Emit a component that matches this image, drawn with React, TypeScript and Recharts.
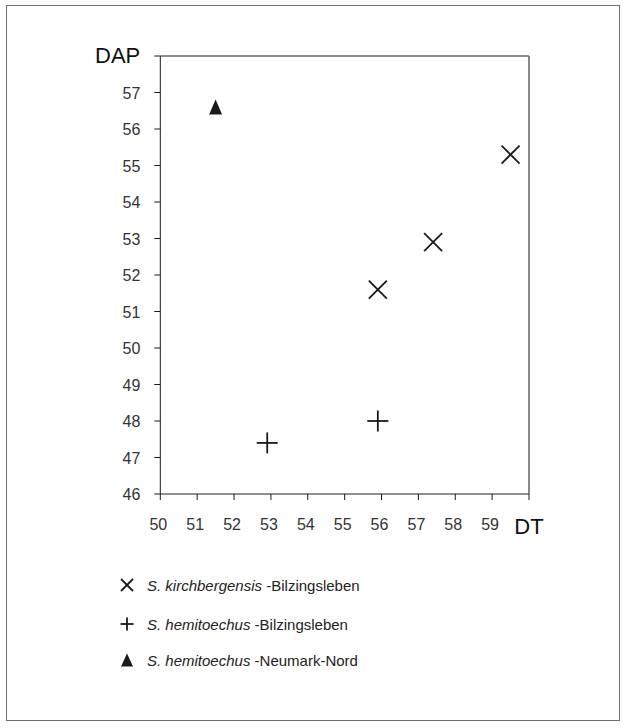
import React from 'react';
import { ScatterChart, Scatter, XAxis, YAxis, ReferenceLine } from 'recharts';

// Rhinoceros teeth measurements: DT (x) against DAP (y)
const kirchbergensisBilzingsleben = [
  { dt: 55.9, dap: 51.6 },
  { dt: 57.4, dap: 52.9 },
  { dt: 59.5, dap: 55.3 },
];
const hemitoechusBilzingsleben = [
  { dt: 52.9, dap: 47.4 },
  { dt: 55.9, dap: 48.0 },
];
const hemitoechusNeumarkNord = [{ dt: 51.5, dap: 56.6 }];

const xTicks = [50, 51, 52, 53, 54, 55, 56, 57, 58, 59, 60];
const yTicks = [46, 47, 48, 49, 50, 51, 52, 53, 54, 55, 56, 57, 58];
const xTitle = 'DT';
const yTitle = 'DAP';

const legendEntries = [
  { species: 'S. kirchbergensis', site: 'Bilzingsleben', marker: 'cross' },
  { species: 'S. hemitoechus', site: 'Bilzingsleben', marker: 'plus' },
  { species: 'S. hemitoechus', site: 'Neumark-Nord', marker: 'triangle' },
];

const FONT = '"Liberation Sans", Arial, Helvetica, sans-serif';
const INK = '#1a1a1a';

const CrossMark = ({ cx, cy, size = 18 }: any) => {
  const h = size / 2;
  return (
    <g stroke={INK} strokeWidth={1.8} fill="none">
      <line x1={cx - h} y1={cy - h} x2={cx + h} y2={cy + h} />
      <line x1={cx - h} y1={cy + h} x2={cx + h} y2={cy - h} />
    </g>
  );
};

const PlusMark = ({ cx, cy, size = 21 }: any) => {
  const h = size / 2;
  return (
    <g stroke={INK} strokeWidth={1.8} fill="none">
      <line x1={cx - h} y1={cy} x2={cx + h} y2={cy} />
      <line x1={cx} y1={cy - h} x2={cx} y2={cy + h} />
    </g>
  );
};

const TriangleMark = ({ cx, cy, w = 13, h = 15 }: any) => (
  <polygon
    points={`${cx},${cy - h / 2} ${cx + w / 2},${cy + h / 2} ${cx - w / 2},${cy + h / 2}`}
    fill={INK}
  />
);

const YTick = ({ x, y, payload }: any) => {
  if (payload.value === yTicks[yTicks.length - 1]) {
    return (
      <text x={x} y={y + 7} textAnchor="end" fontSize={22} fill="#111" fontFamily={FONT}>
        {yTitle}
      </text>
    );
  }
  return (
    <text x={x} y={y + 6} textAnchor="end" fontSize={16} fill="#333" fontFamily={FONT}>
      {payload.value}
    </text>
  );
};

const XTick = ({ x, y, payload }: any) => {
  if (payload.value === xTicks[xTicks.length - 1]) {
    return (
      <text x={x} y={y + 34} textAnchor="middle" fontSize={22} fill="#111" fontFamily={FONT}>
        {xTitle}
      </text>
    );
  }
  return (
    <text x={x - 2} y={y + 30} textAnchor="middle" fontSize={16} fill="#333" fontFamily={FONT}>
      {payload.value}
    </text>
  );
};

const LegendIcon = ({ kind }: { kind: string }) => (
  <svg width={20} height={20} style={{ display: 'block' }}>
    {kind === 'cross' && <CrossMark cx={10} cy={10} size={12} />}
    {kind === 'plus' && <PlusMark cx={10} cy={10} size={13} />}
    {kind === 'triangle' && <TriangleMark cx={10} cy={10} w={12} h={13} />}
  </svg>
);

export default function App() {
  return (
    <div style={{ position: 'absolute', left: 0, top: 0, width: 627, height: 728, background: '#fff' }}>
      <div
        style={{
          position: 'absolute',
          left: 6,
          top: 5,
          width: 614,
          height: 716,
          border: '1px solid #6f6f6f',
          boxSizing: 'border-box',
        }}
      />
      <div style={{ position: 'absolute', left: 0, top: 0 }}>
        <ScatterChart width={627} height={728} margin={{ top: 56, right: 98, bottom: 194, left: 100 }}>
          <XAxis
            type="number"
            dataKey="dt"
            domain={[50, 60]}
            ticks={xTicks}
            interval={0}
            height={40}
            allowDataOverflow
            axisLine={{ stroke: '#6a6a6a', strokeWidth: 1.6 }}
            tickLine={{ stroke: INK }}
            tickSize={6}
            tickMargin={0}
            tick={<XTick />}
          />
          <YAxis
            type="number"
            dataKey="dap"
            domain={[46, 58]}
            ticks={yTicks}
            interval={0}
            width={60.3}
            allowDataOverflow
            axisLine={{ stroke: INK, strokeWidth: 1 }}
            tickLine={{ stroke: INK }}
            tickSize={6}
            tickMargin={14}
            tick={<YTick />}
          />
          <ReferenceLine y={58} stroke={INK} strokeWidth={1} ifOverflow="extendDomain" />
          <ReferenceLine x={60} stroke="#6a6a6a" strokeWidth={1.6} ifOverflow="extendDomain" />
          <Scatter
            data={kirchbergensisBilzingsleben}
            isAnimationActive={false}
            shape={(p: any) => <CrossMark cx={p.cx} cy={p.cy} />}
          />
          <Scatter
            data={hemitoechusBilzingsleben}
            isAnimationActive={false}
            shape={(p: any) => <PlusMark cx={p.cx} cy={p.cy} />}
          />
          <Scatter
            data={hemitoechusNeumarkNord}
            isAnimationActive={false}
            shape={(p: any) => <TriangleMark cx={p.cx} cy={p.cy} />}
          />
        </ScatterChart>
      </div>
      {legendEntries.map((e, i) => (
        <div
          key={i}
          style={{
            position: 'absolute',
            left: 117,
            top: [575, 614, 650][i],
            height: 20,
            display: 'flex',
            alignItems: 'center',
            fontFamily: FONT,
            fontSize: 15,
            color: '#222',
            whiteSpace: 'nowrap',
          }}
        >
          <LegendIcon kind={e.marker} />
          <span style={{ marginLeft: 10 }}>
            <i>{e.species}</i> -{e.site}
          </span>
        </div>
      ))}
    </div>
  );
}
